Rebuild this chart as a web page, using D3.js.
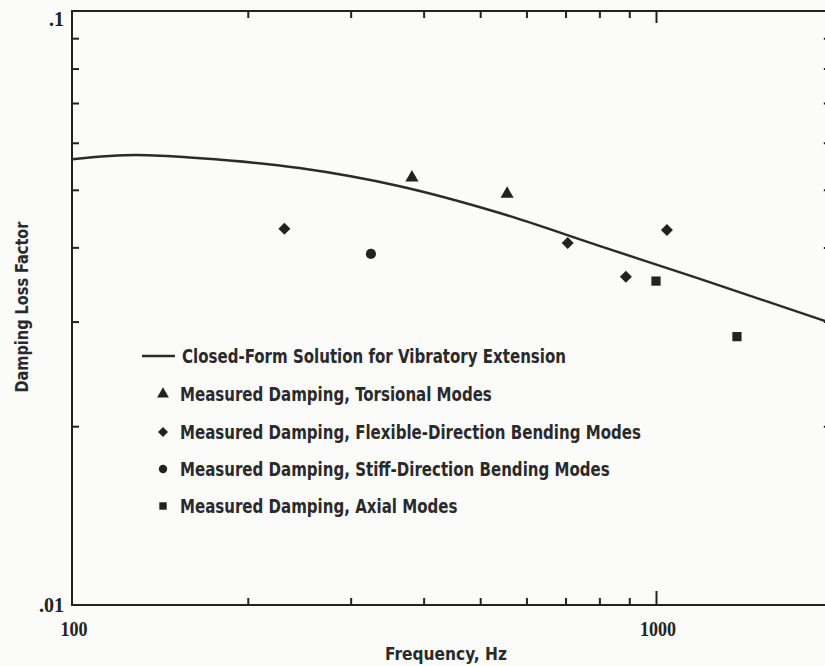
<!DOCTYPE html>
<html>
<head>
<meta charset="utf-8">
<script src="https://cdn.jsdelivr.net/npm/d3@7"></script>
<style>
	body { margin: 0; background: #fbfbfa; }
	svg { display: block; }
	.ink { fill: #222; }
	.axis path { stroke: none; }
	.axis line { stroke: #222; stroke-width: 2; }
	.num { font-family: 'Liberation Serif', 'DejaVu Serif', serif; font-weight: bold; font-size: 20px; fill: #222; }
	.lab { font-family: 'Liberation Sans Narrow', 'DejaVu Sans Condensed', 'Liberation Sans', sans-serif; font-weight: bold; fill: #2a2a2a; }
</style>
</head>
<body>
<div id="chart"></div>
<script>
// closed-form curve
const curveFreq = [100, 129, 166, 245, 364, 540, 802, 1189, 2000];
const curveLoss = [0.0563, 0.0572, 0.0565, 0.0544, 0.0507, 0.0457, 0.0402, 0.0354, 0.0298];

// measured points
const torsionalFreq = [382, 556];
const torsionalLoss = [0.0524, 0.0492];
const flexibleFreq = [231, 706, 888, 1044];
const flexibleLoss = [0.0430, 0.0407, 0.0357, 0.0428];
const stiffFreq = [325];
const stiffLoss = [0.0390];
const axialFreq = [1000, 1376];
const axialLoss = [0.0351, 0.0283];

const xMinorTicks = [200, 300, 400, 500, 600, 700, 800, 900];
const xMajorTicks = [1000];
const yMinorTicks = [0.02, 0.03, 0.04, 0.05, 0.06, 0.07, 0.08, 0.09];
const xTickLabels = [100, 1000];
const yTickLabels = [0.01, 0.1];

const legendItems = [
	{ kind: 'line', text: 'Closed-Form Solution for Vibratory Extension' },
	{ kind: 'triangle', text: 'Measured Damping, Torsional Modes' },
	{ kind: 'diamond', text: 'Measured Damping, Flexible-Direction Bending Modes' },
	{ kind: 'circle', text: 'Measured Damping, Stiff-Direction Bending Modes' },
	{ kind: 'square', text: 'Measured Damping, Axial Modes' }
];

const width = 825;
const height = 666;
const plotLeft = 72, plotTop = 11, plotBottom = 605;
const decade = 584;

const x = d3.scaleLog().domain([100, 2000]).range([plotLeft, plotLeft + decade * Math.log10(20)]);
const y = d3.scaleLog().domain([0.01, 0.1]).range([plotBottom, plotTop]);

const svg = d3.select('#chart').append('svg')
	.attr('width', width)
	.attr('height', height);

//
// frame and ticks
//
const plotRight = x.range()[1];

svg.append('rect')
	.attr('x', plotLeft).attr('y', plotTop)
	.attr('width', plotRight - plotLeft).attr('height', plotBottom - plotTop)
	.attr('fill', 'none').attr('stroke', '#222').attr('stroke-width', 2);

const tickAxes = [
	{ axis: d3.axisBottom(x), at: [0, plotBottom], vals: xMinorTicks, size: -7 },
	{ axis: d3.axisBottom(x), at: [0, plotBottom], vals: xMajorTicks, size: -14 },
	{ axis: d3.axisTop(x), at: [0, plotTop], vals: xMinorTicks, size: -7 },
	{ axis: d3.axisTop(x), at: [0, plotTop], vals: xMajorTicks, size: -12 },
	{ axis: d3.axisLeft(y), at: [plotLeft, 0], vals: yMinorTicks, size: -7 },
	{ axis: d3.axisRight(y), at: [plotRight, 0], vals: yMinorTicks, size: -8 }
];

tickAxes.forEach((t) => {
	svg.append('g')
		.attr('class', 'axis')
		.attr('transform', 'translate(' + t.at[0] + ',' + t.at[1] + ')')
		.call(t.axis.tickValues(t.vals).tickSize(t.size).tickFormat(''));
});

// tick labels
svg.selectAll('text.xnum')
	.data(xTickLabels)
	.enter()
	.append('text')
	.attr('class', 'num xnum')
	.attr('x', (d) => x(d) + 2)
	.attr('y', 636)
	.attr('text-anchor', 'middle')
	.attr('textLength', (d) => d === 100 ? 27 : 36)
	.attr('lengthAdjust', 'spacingAndGlyphs')
	.text((d) => d);

svg.selectAll('text.ynum')
	.data(yTickLabels)
	.enter()
	.append('text')
	.attr('class', 'num ynum')
	.attr('x', plotLeft - 8)
	.attr('y', (d) => y(d) + (d === 0.1 ? 15 : 7))
	.attr('text-anchor', 'end')
	.text((d) => String(d).replace(/^0/, ''));

//
// axis titles
//
svg.append('text')
	.attr('class', 'lab')
	.attr('transform', 'translate(28,307) rotate(-90)')
	.attr('text-anchor', 'middle')
	.attr('font-size', 18)
	.attr('textLength', 171)
	.attr('lengthAdjust', 'spacingAndGlyphs')
	.text('Damping Loss Factor');

svg.append('text')
	.attr('class', 'lab')
	.attr('x', 446)
	.attr('y', 660)
	.attr('text-anchor', 'middle')
	.attr('font-size', 18)
	.attr('textLength', 122)
	.attr('lengthAdjust', 'spacingAndGlyphs')
	.text('Frequency, Hz');

//
// curve
//
const curvePts = curveFreq.map((f, i) => [f, curveLoss[i]]);

svg.append('path')
	.datum(curvePts)
	.attr('fill', 'none')
	.attr('stroke', '#2b2b2b')
	.attr('stroke-width', 2.5)
	.attr('d', d3.line()
		.x((d) => x(d[0]))
		.y((d) => y(d[1]))
		.curve(d3.curveMonotoneX));

//
// markers
//
const symbolOf = {
	triangle: d3.symbol().type(d3.symbolTriangle).size(75),
	diamond: d3.symbol().type(d3.symbolSquare).size(72),
	circle: d3.symbol().type(d3.symbolCircle).size(80),
	square: d3.symbol().type(d3.symbolSquare).size(85)
};

const series = [
	{ kind: 'triangle', f: torsionalFreq, v: torsionalLoss },
	{ kind: 'diamond', f: flexibleFreq, v: flexibleLoss },
	{ kind: 'circle', f: stiffFreq, v: stiffLoss },
	{ kind: 'square', f: axialFreq, v: axialLoss }
];

series.forEach((s) => {
	svg.selectAll('path.m-' + s.kind)
		.data(s.f.map((f, i) => [f, s.v[i]]))
		.enter()
		.append('path')
		.attr('class', 'ink m-' + s.kind)
		.attr('d', symbolOf[s.kind])
		.attr('transform', (d) => 'translate(' + x(d[0]) + ',' + y(d[1]) + ')' +
			(s.kind === 'diamond' ? ' rotate(45)' : ''));
});

//
// legend
//
const legendY = [356, 394, 432, 469, 506];
const legend = svg.append('g');

const legendText = legend.selectAll('text')
	.data(legendItems)
	.enter()
	.append('text')
	.attr('class', 'lab')
	.attr('x', 0)
	.attr('y', 0)
	.attr('font-size', 20)
	.text((d) => d.text);

// squeeze the glyphs so the torsional row spans what the picture shows
const natural = legendText.nodes()[1].getComputedTextLength();
const squeeze = 312 / natural;
legendText.attr('transform', (d, i) =>
	'translate(' + (d.kind === 'line' ? 182 : 180) + ',' + (legendY[i] + 7) + ') scale(' + squeeze + ',1)');

legend.selectAll('path')
	.data(legendItems)
	.enter()
	.append('path')
	.attr('class', 'ink')
	.attr('d', (d) => d.kind === 'line' ? 'M-21,0H12' : d3.symbol()
		.type(d.kind === 'triangle' ? d3.symbolTriangle : (d.kind === 'circle' ? d3.symbolCircle : d3.symbolSquare))
		.size(d.kind === 'triangle' ? 60 : (d.kind === 'diamond' ? 50 : 55))())
	.attr('stroke', (d) => d.kind === 'line' ? '#2b2b2b' : null)
	.attr('stroke-width', (d) => d.kind === 'line' ? 2.5 : null)
	.attr('transform', (d, i) => 'translate(163,' + legendY[i] + ')' + (d.kind === 'diamond' ? ' rotate(45)' : ''));
</script>
</body>
</html>
